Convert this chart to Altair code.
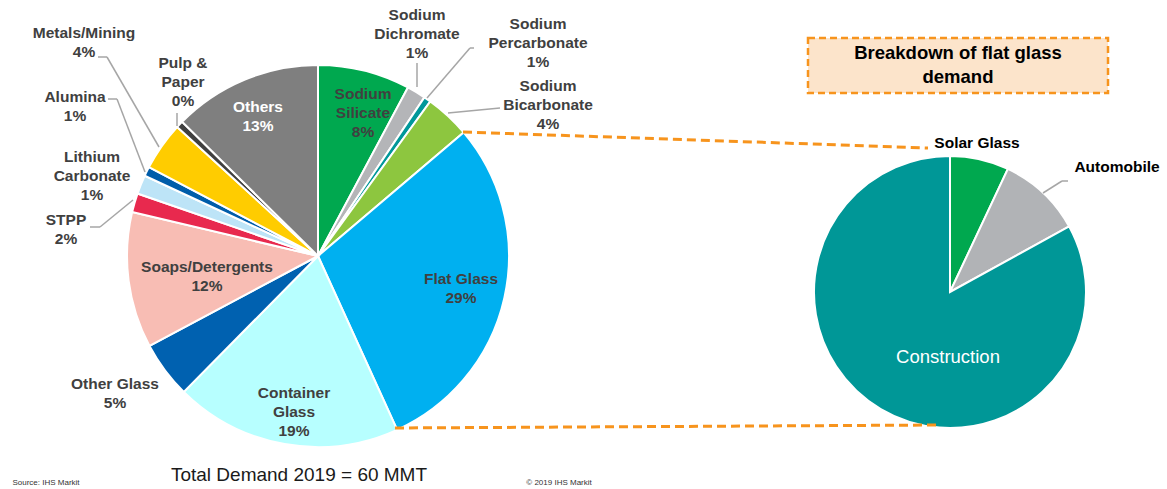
import math
import altair as alt
import pandas as pd

# ---------------- data ----------------
cats = ["Sodium Silicate", "Sodium Dichromate", "Sodium Percarbonate", "Sodium Bicarbonate",
        "Flat Glass", "Container Glass", "Other Glass", "Soaps/Detergents", "STPP",
        "Lithium Carbonate", "Alumina", "Metals/Mining", "Pulp & Paper", "Others"]
values = [7.8, 1.6, 0.6, 3.8, 29.4, 19.2, 4.8, 11.5, 1.6, 1.6, 0.8, 4.1, 0.6, 12.6]
pct_labels = ["8%", "1%", "1%", "4%", "29%", "19%", "5%", "12%", "2%", "1%", "1%", "4%", "0%", "13%"]
display_names = ["Sodium\nSilicate", "Sodium\nDichromate", "Sodium\nPercarbonate", "Sodium\nBicarbonate",
                 "Flat Glass", "Container\nGlass", "Other Glass", "Soaps/Detergents", "STPP",
                 "Lithium\nCarbonate", "Alumina", "Metals/Mining", "Pulp &\nPaper", "Others"]
colors = ["#00A84F", "#B4B5B8", "#00989A", "#8DC63F", "#00B0F0", "#B7FFFF", "#0061B0", "#F8BDB4",
          "#E8294E", "#BDE4F7", "#005DAA", "#FFCC00", "#404040", "#7F7F7F"]

flat_cats = ["Solar Glass", "Automobile", "Construction"]
flat_values = [7, 10, 83]
flat_colors = ["#00A84F", "#B1B3B6", "#009797"]

# ---------------- layout ----------------
W, H = 1167, 489
LC = (318, 256); LR = 191
RC = (950, 292); RR = 136

# (x centre, y of first text line)
label_pos = {
    "Sodium Silicate": (363, 94), "Sodium Dichromate": (417, 15), "Sodium Percarbonate": (538, 24),
    "Sodium Bicarbonate": (548, 86), "Flat Glass": (461, 279), "Container Glass": (294, 393),
    "Other Glass": (115, 384), "Soaps/Detergents": (207, 267), "STPP": (66, 220),
    "Lithium Carbonate": (92, 157), "Alumina": (75, 97), "Metals/Mining": (84, 33),
    "Pulp & Paper": (183, 63), "Others": (258, 107),
}

xs = alt.Scale(domain=[0, W], range=[0, W])
ys = alt.Scale(domain=[0, H], range=[0, H])
FONT = "Liberation Sans"

def pie(cat_list, vals, cols, center, radius):
    df = pd.DataFrame({"cat": cat_list, "value": vals, "order": list(range(len(cat_list)))})
    return alt.Chart(df).mark_arc(outerRadius=radius, stroke="white", strokeWidth=2).encode(
        theta=alt.Theta("value:Q", stack=True,
                        scale=alt.Scale(domain=[0, sum(vals)], range=[0, 2 * math.pi])),
        order=alt.Order("order:Q"),
        color=alt.Color("cat:N", scale=alt.Scale(domain=cat_list, range=cols), legend=None),
        x=alt.value(center[0]), y=alt.value(center[1]),
    )

left_pie = pie(cats, values, colors, LC, LR)
right_pie = pie(flat_cats, flat_values, flat_colors, RC, RR)

# labels
lab_rows = []
for c, dn, p in zip(cats, display_names, pct_labels):
    x, y = label_pos[c]
    lab_rows.append({"text": dn + "\n" + p, "x": x, "y": y, "white": c == "Others"})
lab_df = pd.DataFrame(lab_rows)

def text_layer(df, color, size=15.5, weight="bold", lh=19):
    return alt.Chart(df).mark_text(font=FONT, fontSize=size, fontWeight=weight, color=color,
                                   lineBreak="\n", lineHeight=lh, align="center",
                                   baseline="middle").encode(
        x=alt.X("x:Q", scale=xs, axis=None), y=alt.Y("y:Q", scale=ys, axis=None), text="text:N")

dark_labels = text_layer(lab_df[~lab_df["white"]], "#404040")
white_labels = text_layer(lab_df[lab_df["white"]], "white")

right_lab = pd.DataFrame({"text": ["Solar Glass", "Automobile"], "x": [977, 1117], "y": [143, 167]})
right_labels = text_layer(right_lab, "#000000")
constr = text_layer(pd.DataFrame({"text": ["Construction"], "x": [948], "y": [357]}), "white",
                    size=18.5, weight="normal")

# leader lines
segs = [
    (417, 63, 417, 87),
    (474, 48, 470, 48), (470, 48, 427, 98),
    (500, 108, 448, 113),
    (98, 57, 107, 57), (107, 57, 159, 147),
    (108, 99, 117, 99), (117, 99, 145, 172),
    (177, 113, 177, 126),
    (90, 227, 100, 227), (100, 227, 133, 200),
    (1068, 181, 1062, 181), (1062, 181, 1043, 193),
]
seg_df = pd.DataFrame(segs, columns=["x", "y", "x2", "y2"])
leaders = alt.Chart(seg_df).mark_rule(color="#A6A6A6", strokeWidth=1.5).encode(
    x=alt.X("x:Q", scale=xs, axis=None), y=alt.Y("y:Q", scale=ys, axis=None), x2="x2:Q", y2="y2:Q")

# orange connector dashes
conn_df = pd.DataFrame([(463, 132, 928, 148), (395, 428, 938, 425)], columns=["x", "y", "x2", "y2"])
connectors = alt.Chart(conn_df).mark_rule(color="#F7941D", strokeWidth=3, strokeDash=[9, 5]).encode(
    x=alt.X("x:Q", scale=xs, axis=None), y=alt.Y("y:Q", scale=ys, axis=None), x2="x2:Q", y2="y2:Q")

# title box
box_df = pd.DataFrame([{"x": 808, "y": 38, "x2": 1108, "y2": 93}])
box = alt.Chart(box_df).mark_rect(fill="#FCE4CB", stroke="#F7941D", strokeWidth=2.5,
                                  strokeDash=[7, 4]).encode(
    x=alt.X("x:Q", scale=xs, axis=None), y=alt.Y("y:Q", scale=ys, axis=None), x2="x2:Q", y2="y2:Q")
box_text = text_layer(pd.DataFrame({"text": ["Breakdown of flat glass\ndemand"], "x": [958], "y": [53]}),
                      "#000000", size=18.5, lh=24)

total = text_layer(pd.DataFrame({"text": ["Total Demand 2019 = 60 MMT"], "x": [299], "y": [475]}),
                   "#1a1a1a", size=19, weight="normal")
foot = text_layer(pd.DataFrame({"text": ["Source: IHS Markit", "© 2019 IHS Markit"],
                                "x": [46, 559], "y": [483, 483]}), "#333333", size=8, weight="normal")

chart = alt.layer(
    left_pie, right_pie, connectors, leaders, box, box_text,
    dark_labels, white_labels, right_labels, constr, total, foot
).resolve_scale(theta="independent", color="independent").properties(
    width=W, height=H, padding=0, autosize=alt.AutoSizeParams(type="none")
).configure_view(stroke=None)

chart.save("out.html", embed_options={"renderer": "svg", "actions": False})
